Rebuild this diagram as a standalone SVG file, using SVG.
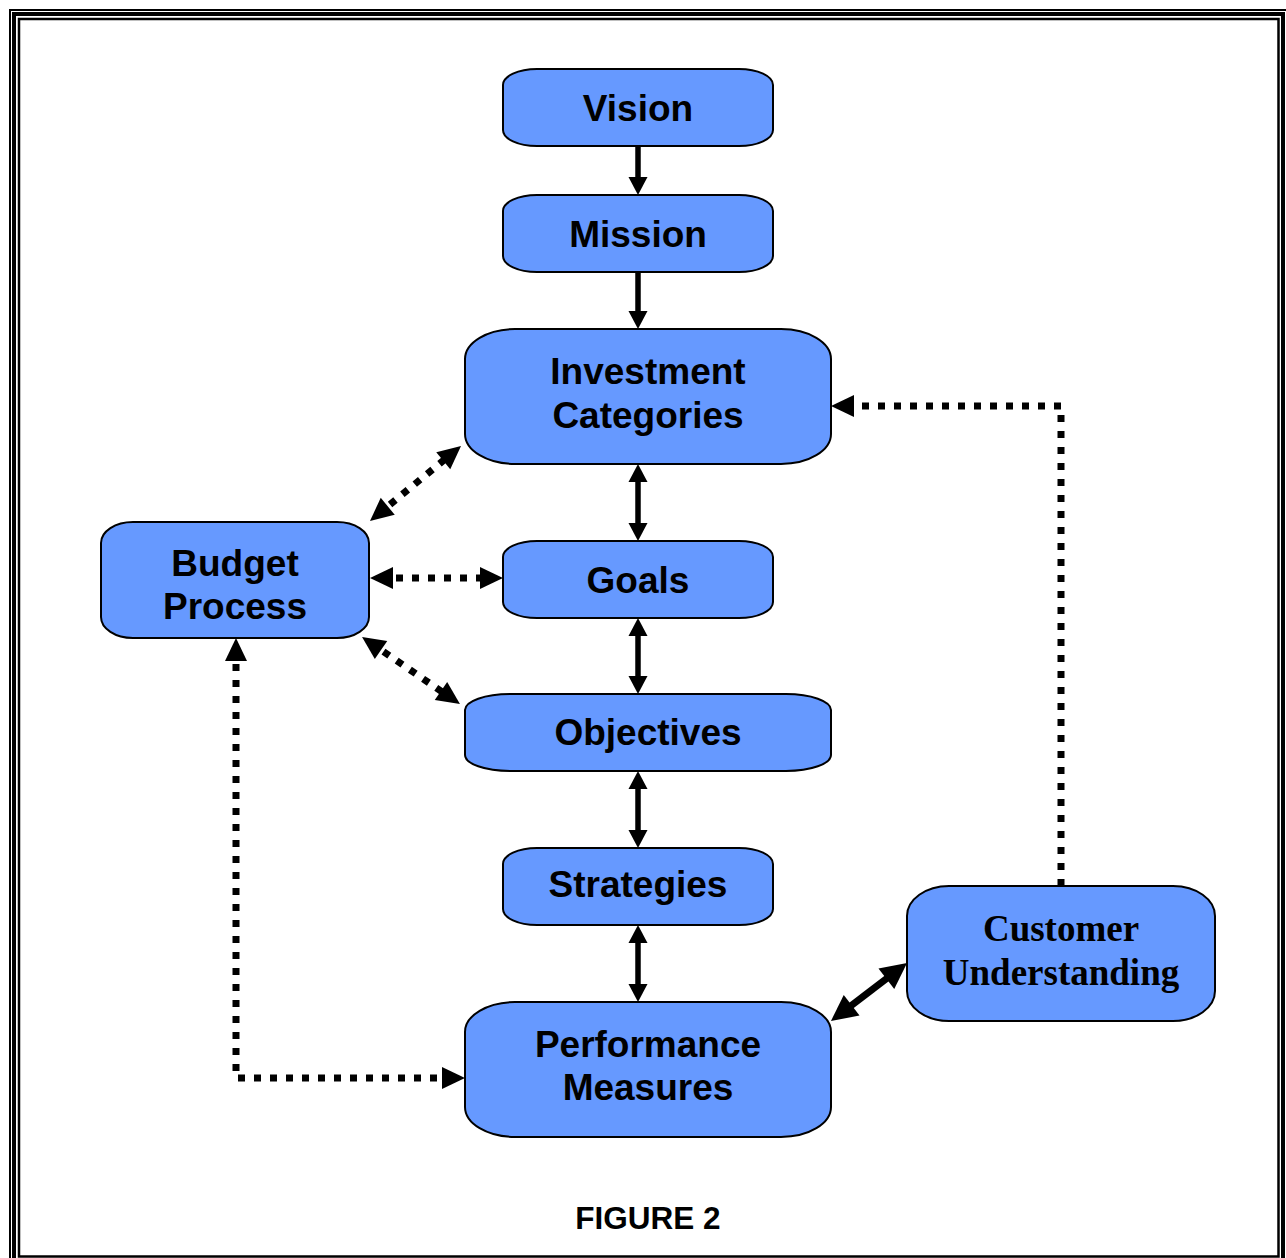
<svg xmlns="http://www.w3.org/2000/svg" width="1286" height="1258" viewBox="0 0 1286 1258">
  <style>
    .box { fill: #6699FF; stroke: #000; stroke-width: 2; }
    .lbl { font-family: "Liberation Sans", Arial, sans-serif; font-weight: bold; font-size: 37px; fill: #000; text-anchor: middle; }
    .lbl-serif { font-family: "Liberation Serif", "Times New Roman", serif; font-weight: bold; font-size: 37px; fill: #000; text-anchor: middle; }
    .solid { fill: none; stroke: #000; stroke-width: 5.5; }
    .thick { fill: none; stroke: #000; stroke-width: 7; }
    .dotted { fill: none; stroke: #000; stroke-width: 7; stroke-dasharray: 7 9; }
    .frame { fill: none; stroke: #000; }
  </style>
  <defs>
    <marker id="ah" markerUnits="userSpaceOnUse" orient="auto-start-reverse" overflow="visible" markerWidth="1" markerHeight="1" refX="0" refY="0">
      <path d="M-10,-9.5 L8,0 L-10,9.5 z" fill="#000"/>
    </marker>
    <marker id="ahd" markerUnits="userSpaceOnUse" orient="auto-start-reverse" overflow="visible" markerWidth="1" markerHeight="1" refX="0" refY="0">
      <path d="M-13,-11 L10,0 L-13,11 z" fill="#000"/>
    </marker>
    <marker id="ahb" markerUnits="userSpaceOnUse" orient="auto-start-reverse" overflow="visible" markerWidth="1" markerHeight="1" refX="0" refY="0">
      <path d="M-14,-13 L12,0 L-14,13 z" fill="#000"/>
    </marker>
  </defs>

  <rect width="1286" height="1258" fill="#fff"/>

  <!-- triple-line page frame -->
  <g id="frame">
    <rect class="frame" x="10" y="10" width="1284" height="1260" stroke-width="2"/>
    <rect class="frame" x="14" y="14" width="1269" height="1252" stroke-width="4"/>
    <rect class="frame" x="19" y="19" width="1259.5" height="1237.5" stroke-width="2.5"/>
  </g>

  <g id="connectors">
    <path class="solid" d="M638,146 V187" marker-end="url(#ah)"/>
    <path class="solid" d="M638,272 V321" marker-end="url(#ah)"/>
    <path class="solid" d="M638,472 V533" marker-start="url(#ah)" marker-end="url(#ah)"/>
    <path class="solid" d="M638,626 V686" marker-start="url(#ah)" marker-end="url(#ah)"/>
    <path class="solid" d="M638,779 V840" marker-start="url(#ah)" marker-end="url(#ah)"/>
    <path class="solid" d="M638,933 V994" marker-start="url(#ah)" marker-end="url(#ah)"/>
    <path class="dotted" d="M377.7,514.6 L453.3,452.4" marker-start="url(#ahd)" marker-end="url(#ahd)"/>
    <path class="dotted" d="M380,578 H493" marker-start="url(#ahd)" marker-end="url(#ahd)"/>
    <path class="dotted" d="M370.3,642.6 L451.7,698.4" marker-start="url(#ahd)" marker-end="url(#ahd)"/>
    <path class="dotted" d="M236,648 V1078 H455" marker-start="url(#ahd)" marker-end="url(#ahd)"/>
    <path class="dotted" d="M1061,886 V406 H841" marker-end="url(#ahd)"/>
    <path class="thick" d="M840.5,1013.7 L897.5,970.3" marker-start="url(#ahb)" marker-end="url(#ahb)"/>
  </g>

  <g id="vision">
    <rect class="box" x="503" y="69" width="270" height="77" rx="34" ry="16"/>
    <text class="lbl" x="638" y="121">Vision</text>
  </g>
  <g id="mission">
    <rect class="box" x="503" y="195" width="270" height="77" rx="34" ry="16"/>
    <text class="lbl" x="638" y="247">Mission</text>
  </g>
  <g id="investment-categories">
    <rect class="box" x="465" y="329" width="366" height="135" rx="50" ry="30"/>
    <text class="lbl" x="648" y="384">Investment</text>
    <text class="lbl" x="648" y="428">Categories</text>
  </g>
  <g id="budget-process">
    <rect class="box" x="101" y="522" width="268" height="116" rx="32" ry="21"/>
    <text class="lbl" x="235" y="576">Budget</text>
    <text class="lbl" x="235" y="619">Process</text>
  </g>
  <g id="goals">
    <rect class="box" x="503" y="541" width="270" height="77" rx="34" ry="16"/>
    <text class="lbl" x="638" y="593">Goals</text>
  </g>
  <g id="objectives">
    <rect class="box" x="465" y="694" width="366" height="77" rx="45" ry="16"/>
    <text class="lbl" x="648" y="745">Objectives</text>
  </g>
  <g id="strategies">
    <rect class="box" x="503" y="848" width="270" height="77" rx="34" ry="16"/>
    <text class="lbl" x="638" y="897">Strategies</text>
  </g>
  <g id="performance-measures">
    <rect class="box" x="465" y="1002" width="366" height="135" rx="50" ry="30"/>
    <text class="lbl" x="648" y="1057">Performance</text>
    <text class="lbl" x="648" y="1100">Measures</text>
  </g>
  <g id="customer-understanding">
    <rect class="box" x="907" y="886" width="308" height="135" rx="42" ry="30"/>
    <text class="lbl-serif" x="1061" y="941">Customer</text>
    <text class="lbl-serif" x="1061" y="985">Understanding</text>
  </g>

  <text class="lbl" x="648" y="1229" style="font-size:31.5px">FIGURE 2</text>
</svg>
